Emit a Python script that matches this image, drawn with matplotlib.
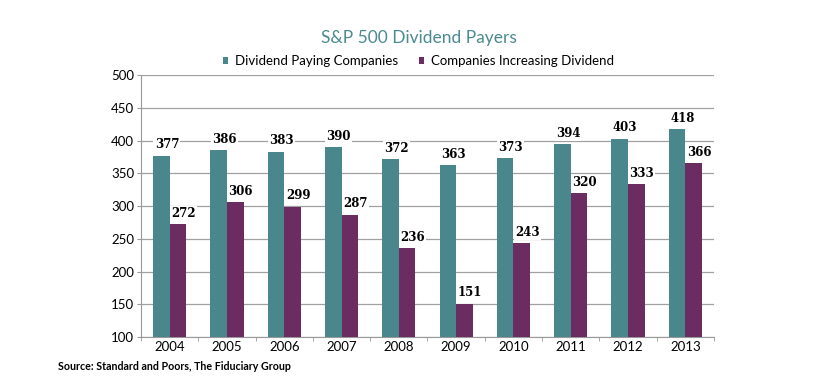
import matplotlib
matplotlib.use("Agg")
import matplotlib.pyplot as plt
import numpy as np

years = ["2004", "2005", "2006", "2007", "2008", "2009", "2010", "2011", "2012", "2013"]
paying = [377, 386, 383, 390, 372, 363, 373, 394, 403, 418]
increasing = [272, 306, 299, 287, 236, 151, 243, 320, 333, 366]
yticks = [100, 150, 200, 250, 300, 350, 400, 450, 500]

teal = "#4a878d"
purple = "#6b2c62"

fig = plt.figure(figsize=(8.37, 3.76), dpi=100)
ax = fig.add_axes([0.1685, 0.1037, 0.6845, 0.6968])

x = np.arange(len(years))
w = 0.29
b1 = ax.bar(x - w / 2, paying, w, color=teal, label="Dividend Paying Companies", zorder=3)
b2 = ax.bar(x + w / 2, increasing, w, color=purple, label="Companies Increasing Dividend", zorder=3)

ax.set_ylim(100, 500)
ax.set_xlim(-0.5, len(years) - 0.5)
ax.set_yticks(yticks)
ax.set_xticks(x)
ax.set_xticklabels(years)
ax.set_xticks(np.arange(-0.5, len(years), 1), minor=True)
ax.tick_params(axis="x", which="major", length=0, labelsize=9.5, pad=3)
ax.tick_params(axis="x", which="minor", length=3, color="#999999")
ax.tick_params(axis="y", length=3, color="#999999", labelsize=9.5, pad=2)
for lab in ax.get_xticklabels() + ax.get_yticklabels():
    lab.set_family("Lato")
ax.grid(axis="y", color="#a0a0a0", linewidth=0.9, zorder=0)
for s in ["top", "right"]:
    ax.spines[s].set_visible(False)
ax.spines["left"].set_color("#999999")
ax.spines["bottom"].set_color("#999999")

bbox = dict(boxstyle="square,pad=0.1", facecolor="white", edgecolor="none")
for bars, vals in ((b1, paying), (b2, increasing)):
    for r, v in zip(bars, vals):
        ax.annotate(str(v), (r.get_x() + r.get_width() / 2, v), xytext=(4, 3),
                    textcoords="offset points", ha="center", va="bottom",
                    fontsize=8.5, fontweight="bold", family="DejaVu Serif",
                    bbox=bbox, zorder=4)

fig.text(0.5, 0.90, "S&P 500 Dividend Payers", ha="center", va="center",
         fontsize=12.5, color="#4a8a90", family="Lato")
leg = fig.legend(loc="center", bbox_to_anchor=(0.5, 0.838), ncol=2, frameon=False,
                 handlelength=0.4, handleheight=0.4, handletextpad=0.5,
                 columnspacing=1.6, prop={"family": "Lato", "size": 9.5})
fig.text(0.069, 0.025, "Source: Standard and Poors, The Fiduciary Group", ha="left",
         va="center", fontsize=7.7, fontweight="bold", family="Lato")

fig.savefig("out.png", dpi=100)
